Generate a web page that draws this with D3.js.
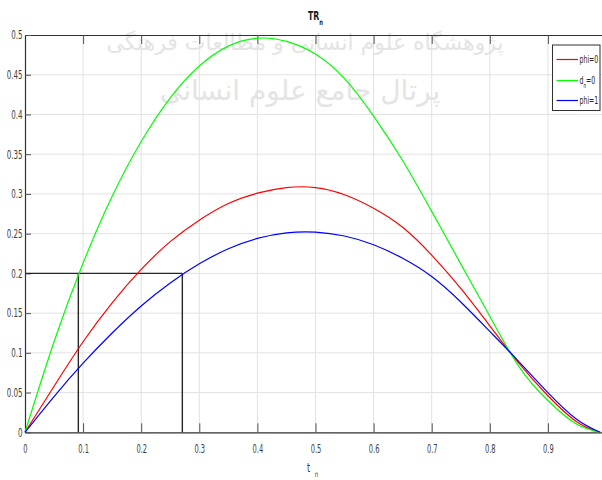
<!DOCTYPE html>
<html>
<head>
<meta charset="utf-8">
<script src="https://cdn.jsdelivr.net/npm/d3@7"></script>
<style>
  html, body { margin: 0; padding: 0; background: #fff; }
  svg { display: block; }
  .lbl { font-family: "Liberation Sans Narrow", "DejaVu Sans Condensed", "Arial Narrow", sans-serif; }
</style>
</head>
<body>
<svg id="chart" width="602" height="480"></svg>
<script>
// ---- data ----
const tValues   = [0, 0.05, 0.1, 0.15, 0.2, 0.25, 0.3, 0.35, 0.4, 0.45, 0.5, 0.55, 0.6, 0.65, 0.7, 0.75, 0.8, 0.85, 0.9, 0.95, 0.99];
const phi0      = [0, 0.058, 0.114, 0.163, 0.205, 0.240, 0.267, 0.288, 0.301, 0.308, 0.308, 0.299, 0.282, 0.258, 0.223, 0.181, 0.134, 0.087, 0.046, 0.013, 0];
const dn0       = [0, 0.114, 0.213, 0.297, 0.366, 0.421, 0.461, 0.486, 0.496, 0.492, 0.476, 0.445, 0.398, 0.342, 0.278, 0.212, 0.146, 0.083, 0.040, 0.010, 0];
const phi1      = [0, 0.045, 0.087, 0.125, 0.159, 0.188, 0.212, 0.231, 0.244, 0.251, 0.252, 0.247, 0.236, 0.219, 0.196, 0.164, 0.127, 0.089, 0.050, 0.016, 0];
const seriesNames  = ["phi=0", "d_n=0", "phi=1"];
const seriesColors = ["#ff0000", "#00ff00", "#0000ff"];
const xTicks = [0, 0.1, 0.2, 0.3, 0.4, 0.5, 0.6, 0.7, 0.8, 0.9];
const yTicks = [0, 0.05, 0.1, 0.15, 0.2, 0.25, 0.3, 0.35, 0.4, 0.45, 0.5];
const guideLevel = 0.2;
const guideT = [0.0918, 0.2708];

(function () {
const svg = d3.select("#chart");
const mLeft = 25, mRight = 606, mTop = 35, mBottom = 432.3;
const x = d3.scaleLinear().domain([0, 1]).range([mLeft, mRight]);
const y = d3.scaleLinear().domain([0, 0.5]).range([mBottom, mTop]);

function squeeze(sel, f) {
  sel.each(function () {
    const w = this.getComputedTextLength();
    d3.select(this).attr("textLength", w * f).attr("lengthAdjust", "spacingAndGlyphs");
  });
}

svg.append("rect").attr("width", 602).attr("height", 480).attr("fill", "#fff");

// watermark
const wm = svg.append("g").attr("fill", "#e4e4e4")
  .style("font-family", "'DejaVu Sans', 'Noto Sans', sans-serif");
wm.append("text").attr("x", 305).attr("y", 50).attr("text-anchor", "middle")
  .style("font-size", "22px").attr("direction", "rtl")
  .text("پژوهشگاه علوم انسانی و مطالعات فرهنگی");
wm.append("text").attr("x", 300).attr("y", 100).attr("text-anchor", "middle")
  .style("font-size", "28px").attr("direction", "rtl")
  .text("پرتال جامع علوم انسانی");

// grid
const grid = svg.append("g").attr("stroke", "#e2e2e2").attr("stroke-width", 1);
grid.selectAll("line.gx").data(xTicks.slice(1)).join("line")
  .attr("x1", d => x(d)).attr("x2", d => x(d)).attr("y1", mTop).attr("y2", mBottom);
grid.selectAll("line.gy").data(yTicks.slice(1, -1)).join("line")
  .attr("x1", mLeft).attr("x2", mRight).attr("y1", d => y(d)).attr("y2", d => y(d));

// axes (MATLAB-like, inward ticks)
const fmt = d => String(+d.toFixed(2));
const xAxis = d3.axisBottom(x).tickValues(xTicks).tickSizeInner(-9).tickSizeOuter(0).tickPadding(12).tickFormat(fmt);
const gx = svg.append("g").attr("transform", `translate(0,${mBottom})`).call(xAxis);
const xTopAxis = d3.axisTop(x).tickValues(xTicks).tickSizeInner(-9).tickSizeOuter(0).tickFormat("");
const gxt = svg.append("g").attr("transform", `translate(0,${mTop})`).call(xTopAxis);
const yAxis = d3.axisLeft(y).tickValues(yTicks).tickSizeInner(-6).tickSizeOuter(0).tickPadding(2.5).tickFormat(fmt);
const gy = svg.append("g").attr("transform", `translate(${mLeft},0)`).call(yAxis);
[gx, gxt, gy].forEach(g => {
  g.attr("font-family", null).attr("font-size", null);
  g.select(".domain").attr("stroke", "#303030").attr("stroke-width", 1.2);
  g.selectAll(".tick line").attr("stroke", "#505050").attr("stroke-width", 1);
  g.selectAll(".tick text").attr("class", "lbl").attr("fill", "#404040").style("font-size", "12px");
});
squeeze(gx.selectAll(".tick text"), 0.62);
squeeze(gy.selectAll(".tick text"), 0.66);

// guide lines
const guide = svg.append("g").attr("stroke", "#262626").attr("stroke-width", 1.4).attr("fill", "none");
guide.append("line").attr("x1", x(0)).attr("x2", x(guideT[1])).attr("y1", y(guideLevel)).attr("y2", y(guideLevel));
guide.selectAll("line.v").data(guideT).join("line")
  .attr("x1", d => x(d)).attr("x2", d => x(d)).attr("y1", y(guideLevel)).attr("y2", y(0));

// curves
const allSeries = [phi0, dn0, phi1];
const line = d3.line().x(d => x(d[0])).y(d => y(d[1])).curve(d3.curveNatural);
svg.append("g").selectAll("path").data(allSeries).join("path")
  .attr("fill", "none")
  .attr("stroke", (d, i) => seriesColors[i])
  .attr("stroke-width", 1.2)
  .attr("d", vals => line(tValues.map((t, j) => [t, vals[j]])));

// title
const tg = svg.append("g").attr("transform", "translate(308,20) scale(0.72,1)");
const title = tg.append("text").attr("class", "lbl")
  .style("font-size", "12px").style("font-weight", "bold").attr("fill", "#1a1a1a");
title.append("tspan").text("TR");
title.append("tspan").attr("dy", 5).style("font-size", "8px").text("n");

// x label
const xg = svg.append("g").attr("transform", "translate(307,472) scale(0.75,1)");
const xl = xg.append("text").attr("class", "lbl").style("font-size", "12px").attr("fill", "#404040");
xl.append("tspan").text("t");
xl.append("tspan").attr("dy", 5).attr("dx", 6).style("font-size", "8px").text("n");

// legend
const lg = svg.append("g");
lg.append("rect").attr("x", 552.5).attr("y", 45).attr("width", 47.5).attr("height", 65.5)
  .attr("fill", "#fff").attr("stroke", "#303030").attr("stroke-width", 1);
const legendY = [59.5, 80.5, 100.5];
seriesNames.forEach((name, i) => {
  lg.append("line").attr("x1", 556.5).attr("x2", 578).attr("y1", legendY[i]).attr("y2", legendY[i])
    .attr("stroke", seriesColors[i]).attr("stroke-width", 1.2);
  const g = lg.append("g").attr("transform", `translate(579.5,${legendY[i] + 3.5}) scale(0.66,1)`);
  const t = g.append("text").attr("class", "lbl").style("font-size", "10.5px").attr("fill", "#262626");
  if (name === "d_n=0") {
    t.append("tspan").text("d");
    t.append("tspan").attr("dy", 4).style("font-size", "7px").text("n");
    t.append("tspan").attr("dy", -4).text("=0");
  } else {
    t.text(name);
  }
});
})();
</script>
</body>
</html>
